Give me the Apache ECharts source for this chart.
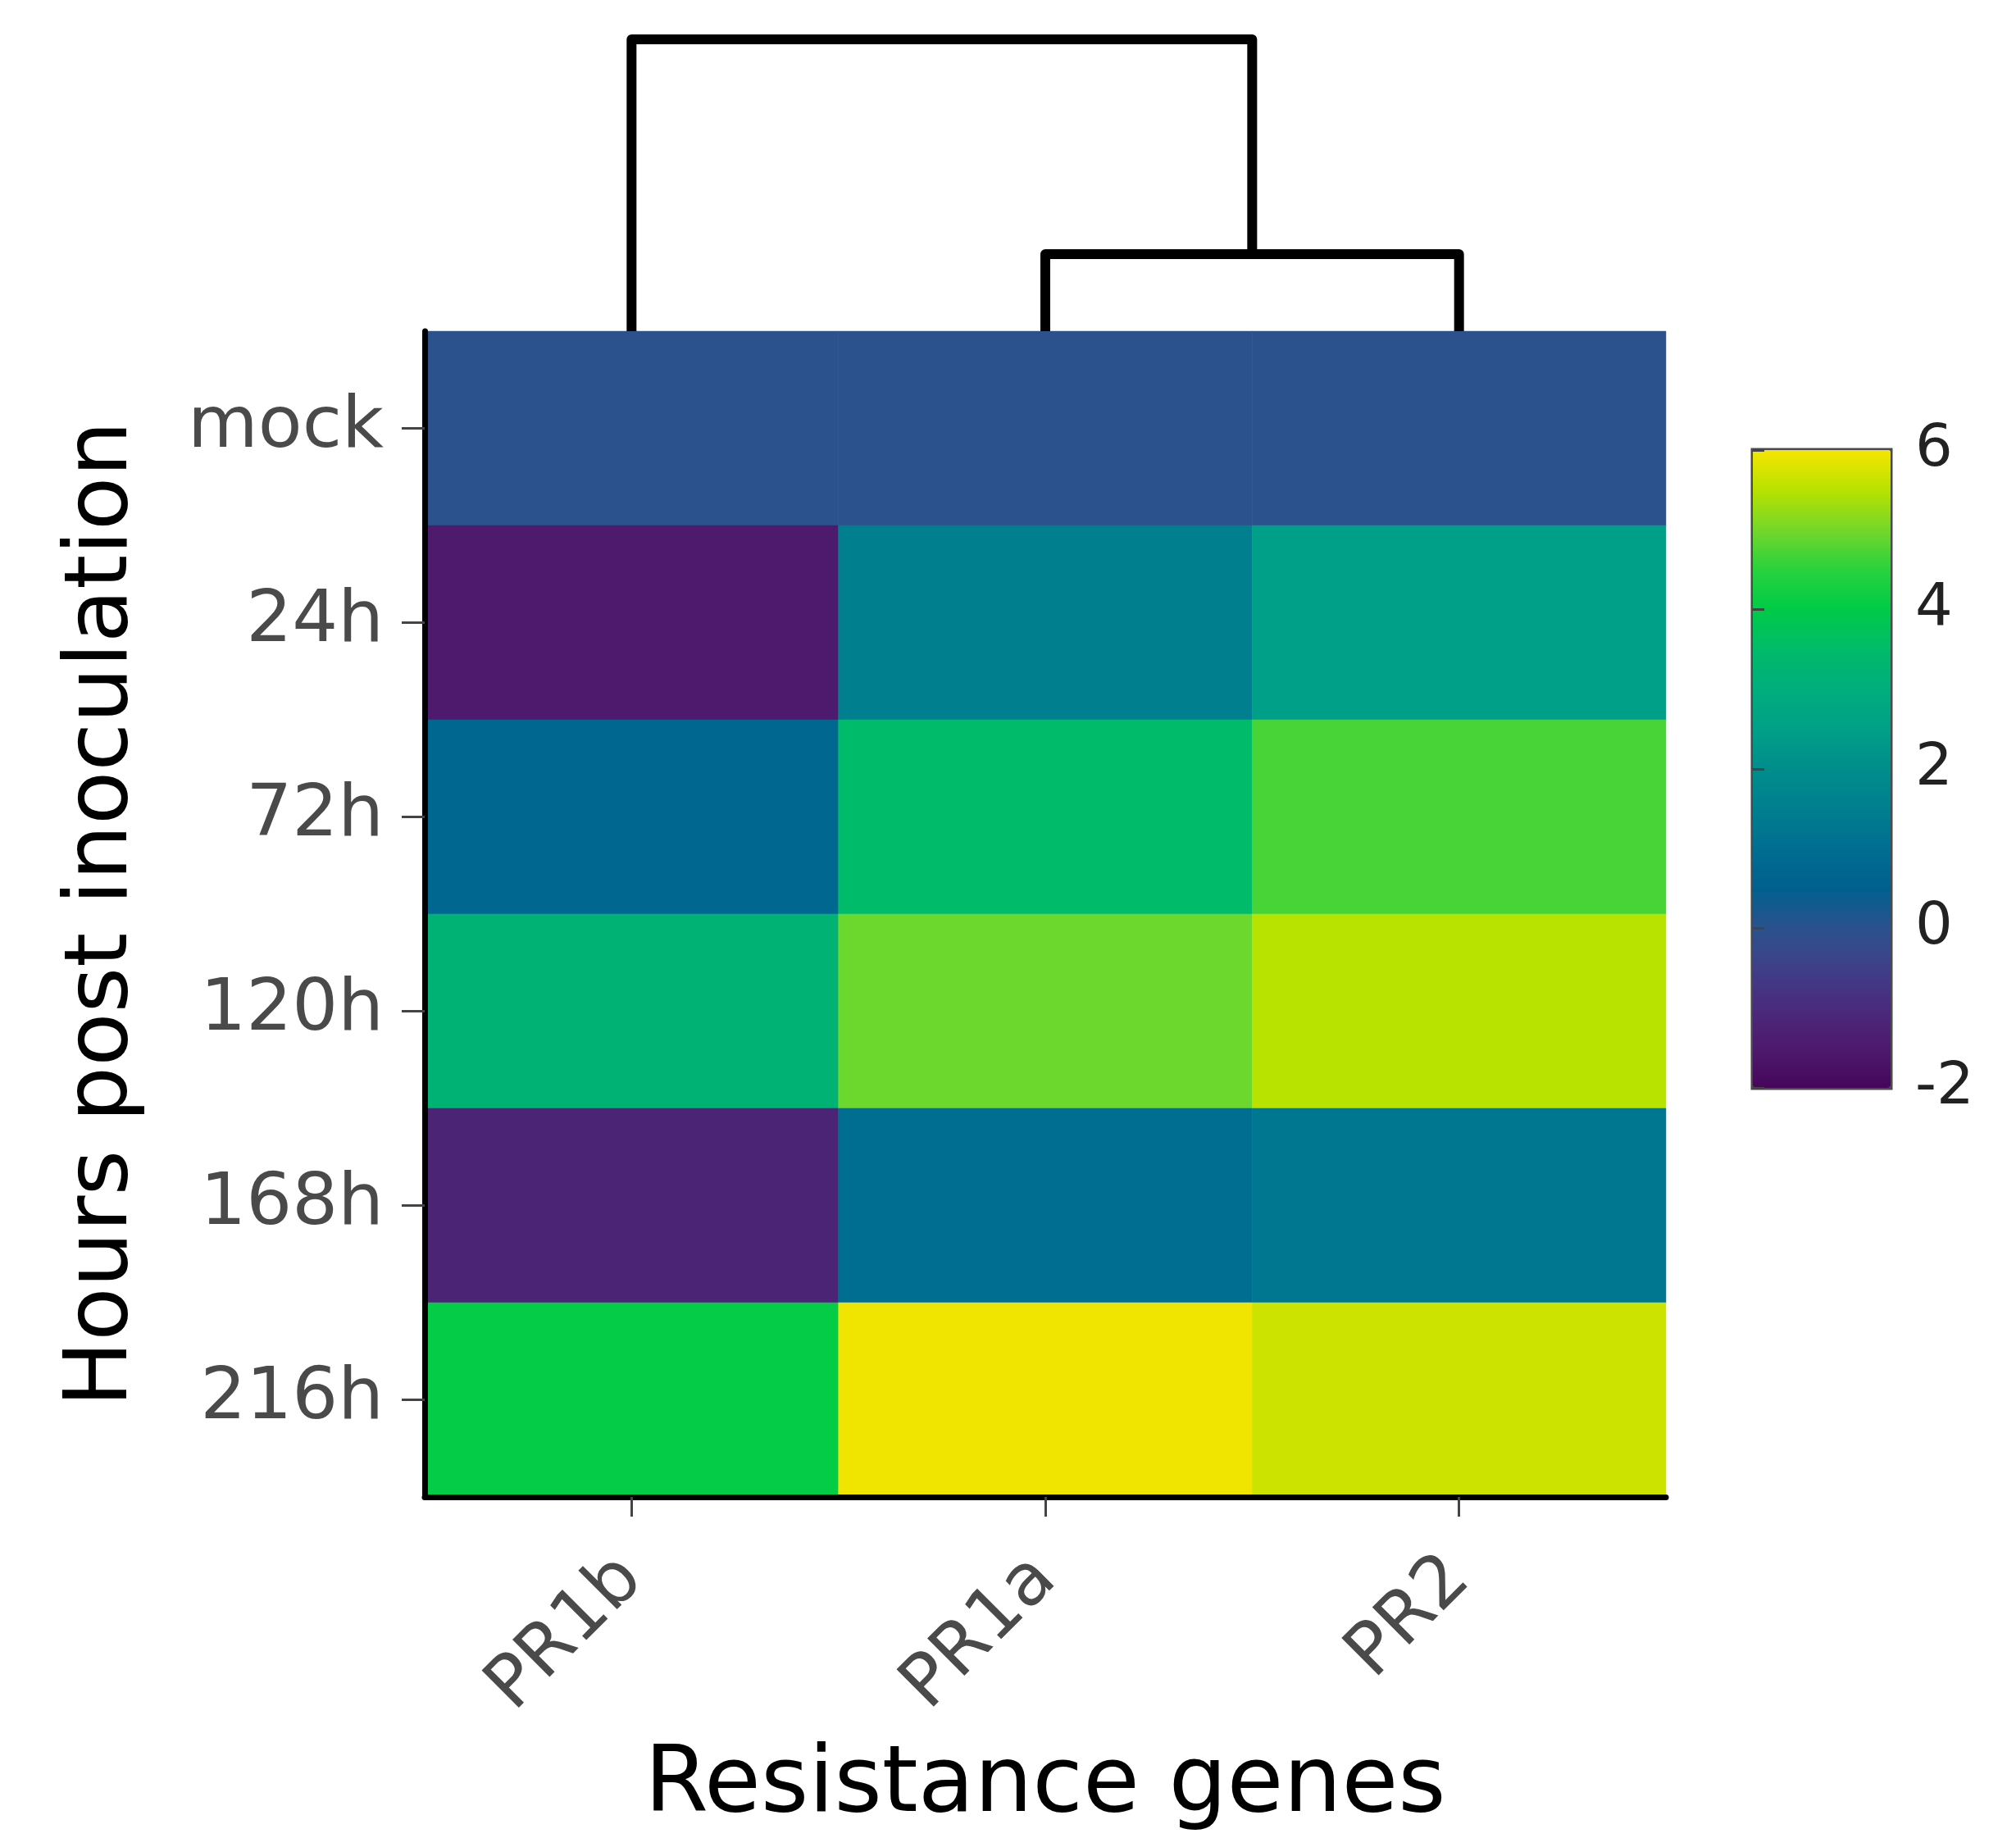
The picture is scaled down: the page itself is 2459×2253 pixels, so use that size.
<!DOCTYPE html>
<html><head><meta charset="utf-8">
<script src="https://cdn.jsdelivr.net/npm/echarts@6/dist/echarts.min.js"></script>
<style>html,body{margin:0;padding:0;background:#fff}#c{width:2459px;height:2253px}</style>
</head><body><div id="c"></div>
<script>
// ---- data ----
const genes = ['PR1b', 'PR1a', 'PR2'];
const timepoints = ['mock', '24h', '72h', '120h', '168h', '216h'];
const valuesPR1b = [0, -1.5, 0.75, 3.2, -1.2, 4.05];
const valuesPR1a = [0, 1.5, 3.5, 4.95, 1.0, 5.96];
const valuesPR2  = [0, 2.5, 4.71, 5.5, 1.25, 5.66];
const scaleMin = -2, scaleMax = 6, scaleStep = 2;
const paletteStops = ['#46065a','#4d1a6e','#4a2a7c','#3f3f88','#2b528d','#00608f','#006e90','#007f8f',
  '#008d8b','#00a088','#00ae7c','#00bb6a','#00cb48','#28d23e','#74d72a','#b8e200','#f5e500'];
// dendrogram merges (column clustering)
const mergeLeft = ['PR1a', 'PR1b'];
const mergeRight = ['PR2', 'PR1a+PR2'];
const mergeHeight = [2.64, 10];

// ---- build ----
const geneValues = [valuesPR1b, valuesPR1a, valuesPR2];
const heatData = [];
geneValues.forEach((vals, gi) => vals.forEach((v, ti) => heatData.push([gi, ti, v])));

const nodeX = {}, nodeH = {};
genes.forEach((g, i) => { nodeX[g] = i; nodeH[g] = 0; });
const dendData = mergeLeft.map((l, i) => {
  const r = mergeRight[i];
  const row = [nodeX[l], nodeX[r], nodeH[l], nodeH[r], mergeHeight[i]];
  const name = l + '+' + r;
  nodeX[name] = (nodeX[l] + nodeX[r]) / 2;
  nodeH[name] = mergeHeight[i];
  return row;
});

const FONT = 'DejaVu Sans';
const chart = echarts.init(document.getElementById('c'), null, {renderer: 'canvas'});
chart.setOption({
  animation: false,
  backgroundColor: '#ffffff',
  grid: [
    {left: 518, top: 404, width: 1514, height: 1422, outerBoundsMode: 'none', containLabel: false},
    {left: 518, top: 48, width: 1514, height: 356, outerBoundsMode: 'none', containLabel: false},
    {left: 2138, top: 549, width: 168, height: 778, outerBoundsMode: 'none', containLabel: false,
     show: true, borderColor: '#4a4a4a', borderWidth: 5, backgroundColor: 'transparent'}
  ],
  xAxis: [
    {type: 'category', data: genes, gridIndex: 0, position: 'bottom', z: 5,
     axisLine: {show: true, lineStyle: {color: '#000', width: 7}},
     axisTick: {show: true, alignWithLabel: true, length: 24, lineStyle: {color: '#444', width: 3}},
     axisLabel: {rotate: 45, margin: 87, fontSize: 88, color: '#4a4a4a', fontFamily: FONT},
     splitLine: {show: false},
     name: 'Resistance genes', nameLocation: 'middle', nameGap: 298, nameMoveOverlap: false,
     nameTextStyle: {fontSize: 112, color: '#000', fontFamily: FONT}},
    {type: 'value', gridIndex: 1, min: -0.5, max: 2.5, show: false},
    {type: 'value', gridIndex: 2, min: 0, max: 1, show: false}
  ],
  yAxis: [
    {type: 'category', data: timepoints, gridIndex: 0, inverse: true, z: 5,
     axisLine: {show: true, lineStyle: {color: '#000', width: 7}},
     axisTick: {show: true, alignWithLabel: true, length: 28, lineStyle: {color: '#444', width: 3}},
     axisLabel: {margin: 50, fontSize: 88, color: '#4a4a4a', fontFamily: FONT},
     splitLine: {show: false},
     name: 'Hours post inoculation', nameLocation: 'middle', nameGap: 338, nameRotate: 90, nameMoveOverlap: false,
     nameTextStyle: {fontSize: 107, color: '#000', fontFamily: FONT}},
    {type: 'value', gridIndex: 1, min: 0, max: 10, show: false},
    {type: 'value', gridIndex: 2, min: scaleMin, max: scaleMax, interval: scaleStep, position: 'right', z: 6,
     axisLine: {show: false},
     axisTick: {show: true, length: 14, lineStyle: {color: '#444', width: 3}},
     axisLabel: {margin: 30, fontSize: 72, color: '#222', fontFamily: FONT},
     splitLine: {show: false}}
  ],
  visualMap: {
    type: 'continuous', min: scaleMin, max: scaleMax, seriesIndex: 0, calculable: false,
    orient: 'vertical', left: 2138, top: 549, itemWidth: 168, itemHeight: 778, padding: 0,
    hoverLink: false, inRange: {color: paletteStops}
  },
  series: [
    {type: 'heatmap', xAxisIndex: 0, yAxisIndex: 0, data: heatData,
     itemStyle: {borderWidth: 0}, emphasis: {disabled: true}, progressive: 0},
    {type: 'custom', xAxisIndex: 1, yAxisIndex: 1, data: dendData, clip: false, silent: true,
     encode: {x: [0, 1], y: [2, 3, 4]},
     renderItem: function (params, api) {
       const lx = api.value(0), rx = api.value(1), lh = api.value(2), rh = api.value(3), h = api.value(4);
       const pts = [api.coord([lx, lh]), api.coord([lx, h]), api.coord([rx, h]), api.coord([rx, rh])];
       return {type: 'polyline', shape: {points: pts},
               style: {stroke: '#000', lineWidth: 12, fill: null, lineJoin: 'round'}};
     }}
  ]
});
</script></body></html>
